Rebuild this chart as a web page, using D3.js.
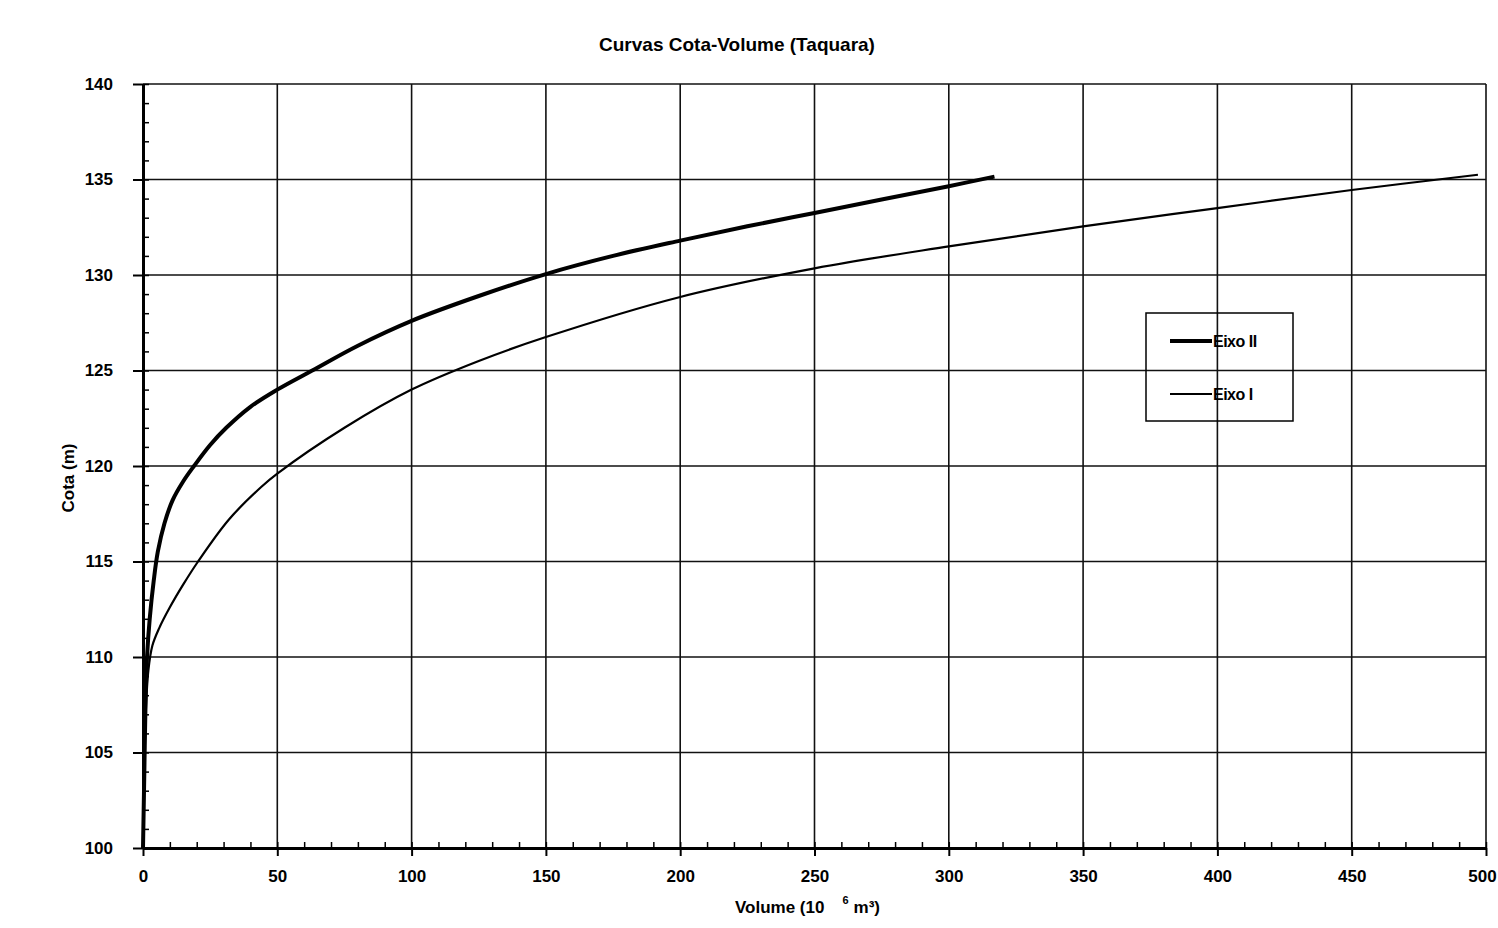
<!DOCTYPE html>
<html lang="pt">
  <head>
    <title>
      Curvas Cota-Volume (Taquara)
    </title>
    <script src="https://d3js.org/d3.v7.min.js"></script>
    <style>
      body { margin: 0; background: #fff; }
      svg text { font-family: "Liberation Sans", Arial, sans-serif; font-weight: bold; fill: #000; }
    </style>
    <script>
      // volume (10^6 m3) x cota (m)
      var eixo2Vol  = [0, 0.5, 1, 1.5, 2.5, 4, 5.5, 8, 11, 15, 19, 25, 31, 40, 50, 63, 80, 100, 125, 150, 175, 200, 225, 250, 275, 300, 317];
      var eixo2Cota = [100, 104, 108, 110, 112, 114, 115.5, 117, 118.2, 119.2, 120, 121.1, 122, 123.1, 124, 125, 126.3, 127.6, 128.9, 130.05, 131, 131.8, 132.55, 133.25, 133.95, 134.65, 135.15];

      var eixo1Vol  = [0, 0.5, 1, 2, 3.5, 6, 10, 15, 20.5, 32, 44, 50, 75, 100, 125, 150, 200, 250, 300, 350, 400, 450, 497];
      var eixo1Cota = [100, 104, 107, 109.3, 110.6, 111.5, 112.6, 113.8, 115, 117.2, 118.9, 119.6, 122, 124, 125.5, 126.75, 128.85, 130.35, 131.5, 132.55, 133.5, 134.45, 135.25];

      var xTicks = [0, 50, 100, 150, 200, 250, 300, 350, 400, 450, 500];
      var yTicks = [100, 105, 110, 115, 120, 125, 130, 135, 140];
      var seriesNames = ["Eixo II", "Eixo I"];

      window.onload = () => {
        var svg = d3.select("#chart").append("svg")
            .attr("width", 1498)
            .attr("height", 928);

        var margin = {top: 84, right: 12, bottom: 80, left: 143},
            width = 1498 - margin.left - margin.right,
            height = 928 - margin.top - margin.bottom;

        var x = d3.scaleLinear().domain([0, 500]).range([0, width]),
            y = d3.scaleLinear().domain([100, 140]).range([height, 0]);

        var g = svg.append("g")
            .attr("transform", "translate(" + margin.left + "," + margin.top + ")");

        svg.append("text")
            .attr("x", 737)
            .attr("y", 51)
            .attr("text-anchor", "middle")
            .style("font-size", "19px")
            .text("Curvas Cota-Volume (Taquara)");

        // grade
        g.selectAll(".vgrid")
          .data(xTicks)
          .enter().append("line")
            .attr("x1", d => x(d)).attr("x2", d => x(d))
            .attr("y1", 0).attr("y2", height)
            .attr("stroke", "#111").attr("stroke-width", 1.6);

        g.selectAll(".hgrid")
          .data(yTicks)
          .enter().append("line")
            .attr("x1", 0).attr("x2", width)
            .attr("y1", d => y(d)).attr("y2", d => y(d))
            .attr("stroke", "#111").attr("stroke-width", 1.6);

        // ticks menores
        g.append("g")
            .attr("transform", "translate(0," + height + ")")
            .call(d3.axisBottom(x).tickValues(d3.range(0, 501, 10)).tickSize(-6).tickFormat(""))
            .call(a => a.select(".domain").remove())
            .selectAll("line").attr("stroke", "#000").attr("stroke-width", 1.5);

        g.append("g")
            .call(d3.axisLeft(y).tickValues(d3.range(100, 141, 1)).tickSize(-6).tickFormat(""))
            .call(a => a.select(".domain").remove())
            .selectAll("line").attr("stroke", "#000").attr("stroke-width", 1.5);

        // eixos principais
        var xAxis = g.append("g")
            .attr("transform", "translate(0," + height + ")")
            .call(d3.axisBottom(x).tickValues(xTicks).tickSize(8).tickPadding(14).tickSizeOuter(0));
        xAxis.select(".domain").attr("stroke", "#000").attr("stroke-width", 3);
        xAxis.selectAll("line").attr("stroke", "#000").attr("stroke-width", 2);
        xAxis.selectAll("text").style("font-size", "17px").attr("fill", "#000")
            .attr("dx", d => d == 500 ? -4 : 0);

        var yAxis = g.append("g")
            .call(d3.axisLeft(y).tickValues(yTicks).tickSize(10).tickPadding(20).tickSizeOuter(0));
        yAxis.select(".domain").attr("stroke", "#000").attr("stroke-width", 3);
        yAxis.selectAll("line").attr("stroke", "#000").attr("stroke-width", 2);
        yAxis.selectAll("text").style("font-size", "17px").attr("fill", "#000");

        var xLabel = svg.append("text")
            .attr("x", 735)
            .attr("y", 913)
            .style("font-size", "17px");
        xLabel.append("tspan").text("Volume (10");
        xLabel.append("tspan").attr("dx", 18).attr("dy", -9).style("font-size", "11px").text("6");
        xLabel.append("tspan").attr("dx", 5).attr("dy", 9).text("m³)");

        svg.append("text")
            .attr("transform", "translate(74,478) rotate(-90)")
            .attr("text-anchor", "middle")
            .style("font-size", "17px")
            .text("Cota (m)");

        // curvas
        var line = d3.line()
            .x(d => x(d[0]))
            .y(d => y(d[1]))
            .curve(d3.curveCatmullRom.alpha(0.5));

        var eixo2 = eixo2Vol.map((v, i) => [v, eixo2Cota[i]]);
        var eixo1 = eixo1Vol.map((v, i) => [v, eixo1Cota[i]]);

        g.append("path")
            .datum(eixo1)
            .attr("fill", "none")
            .attr("stroke", "#000")
            .attr("stroke-width", 2.2)
            .attr("d", line);

        g.append("path")
            .datum(eixo2)
            .attr("fill", "none")
            .attr("stroke", "#000")
            .attr("stroke-width", 4)
            .attr("d", line);

        // legenda
        var legend = svg.append("g").attr("transform", "translate(1146,313)");
        legend.append("rect")
            .attr("width", 147).attr("height", 108)
            .attr("fill", "none")
            .attr("stroke", "#000").attr("stroke-width", 1.5);

        var rows = legend.selectAll(".item")
          .data(seriesNames)
          .enter().append("g")
            .attr("transform", (d, i) => "translate(0," + (28 + i * 53) + ")");

        rows.append("line")
            .attr("x1", 24).attr("x2", 66)
            .attr("stroke", "#000")
            .attr("stroke-width", (d, i) => i == 0 ? 4 : 2.2);

        rows.append("text")
            .attr("x", 67)
            .attr("dy", "0.35em")
            .style("font-size", "16px")
            .style("letter-spacing", "-0.5px")
            .text(d => d);
      };
    </script>
  </head>
  <body>
    <div id="chart"></div>
  </body>
</html>
